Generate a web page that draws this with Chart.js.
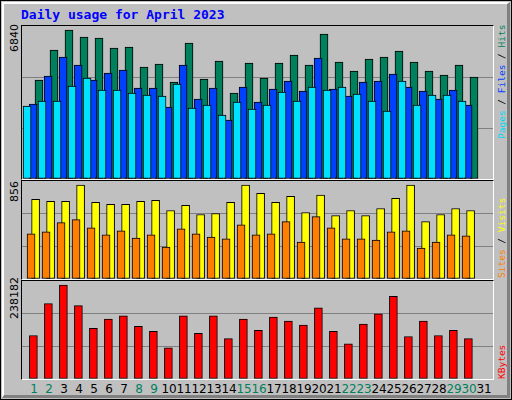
<!DOCTYPE html>
<html>
<head>
<meta charset="utf-8">
<script src="https://cdn.jsdelivr.net/npm/chart.js@4"></script>
<style>
  body { margin: 0; background: #fff; }
  #wrap { position: relative; width: 512px; height: 400px; background: #c0c0c0; box-sizing: border-box;
          border: 1px solid #000; }
  #bevel { position: absolute; left: 1px; top: 1px; right: 1px; bottom: 1px;
           border-top: 2px solid #fff; border-left: 2px solid #fff; border-right: 3px solid #808080; border-bottom: 3px solid #808080; }
  .title { position: absolute; left: 20px; top: 6px; font: bold 13px "DejaVu Sans Mono", monospace; color: #0000ff; }
  .panel { position: absolute; left: 20px; width: 471px; border-top: 1px solid #000; border-left: 1px solid #000;
           border-right: 1px solid #fff; border-bottom: 1px solid #fff; box-sizing: content-box; }
  .panel canvas { position: absolute; left: 0; top: 0; }
  .vl { position: absolute; font: 9.5px "DejaVu Sans Mono", monospace; line-height: 12px; transform: rotate(-90deg); transform-origin: left top; white-space: nowrap; }
  .num { font: 11px "DejaVu Sans", sans-serif; line-height: 12px; }
  .day { position: absolute; top: 381px; font: 12px "DejaVu Sans", sans-serif; width: 20px; text-align: center; }
</style>
</head>
<body>
<div id="wrap">
  <div id="bevel"></div>
  <div class="title">Daily usage for April 2023</div>
  <div class="panel" style="top:24px;height:153px"><canvas id="c1" width="471" height="153"></canvas></div>
  <div class="panel" style="top:179px;height:98px"><canvas id="c2" width="471" height="98"></canvas></div>
  <div class="panel" style="top:279px;height:98px"><canvas id="c3" width="471" height="98"></canvas></div>
  <div class="vl num" style="left:8px;top:51px">6840</div>
  <div class="vl num" style="left:8px;top:201px">856</div>
  <div class="vl num" style="left:8px;top:318px">238182</div>
  <div class="vl" style="left:495px;top:138px"><span style="color:#00d8f0">Pages</span> / <span style="color:#0040ff">Files</span> / <span style="color:#00805c">Hits</span></div>
  <div class="vl" style="left:495px;top:277px"><span style="color:#ff8000">Sites</span> / <span style="color:#ffff00">Visits</span></div>
  <div class="vl" style="left:495px;top:378px;color:#ff0000">KBytes</div>
  <div id="days"></div>
</div>
<script>
const days = Array.from({ length: 31 }, (_, i) => i + 1)
const weekend = [1, 2, 8, 9, 15, 16, 22, 23, 29, 30]

const hits = [4425, 5766, 6660, 6347, 6303, 5856, 5900, 5006, 5140, 4336, 6079, 4470, 5275, 3844, 5185,
  4515, 5185, 5543, 5096, 6482, 5230, 4828, 5364, 5453, 5722, 5230, 4828, 4649, 5096, 4559]
const files = [3353, 4604, 5453, 5096, 4425, 4738, 4872, 4068, 4068, 3218, 5096, 3576, 4068, 2637, 4112,
  3442, 4023, 4381, 3934, 5409, 4023, 3710, 4336, 4381, 4694, 4112, 3934, 3576, 3978, 3308]
const pages = [3263, 3487, 3487, 4157, 4515, 3978, 3978, 3844, 3755, 3710, 4247, 3174, 3308, 2861, 3442,
  3129, 3308, 3889, 3487, 4112, 3978, 4112, 3800, 3487, 3040, 4381, 3308, 3755, 3755, 3487]
const visits = [696, 678, 678, 820, 669, 652, 652, 678, 687, 598, 643, 563, 572, 669, 820,
  749, 669, 723, 581, 732, 554, 598, 554, 616, 705, 820, 501, 563, 616, 598]
const sites = [394, 412, 492, 518, 447, 385, 421, 358, 385, 278, 438, 394, 367, 350, 474,
  385, 394, 501, 323, 545, 447, 350, 350, 341, 412, 421, 270, 323, 385, 376]
const kbytes = [105766, 183216, 228187, 178219, 123254, 145740, 153235, 128251, 115759, 75785, 153235, 110762, 153235, 98270, 145740,
  118258, 150737, 140743, 130750, 173222, 115759, 85778, 133248, 158232, 200705, 103267, 140743, 105766, 118258, 98270]
const maxHits = 6840
const maxVisits = 856
const maxKbytes = 238182

const pts = (vals, off) => vals.map((v, i) => ({ x: days[i] + off, y: v }))

const ds = (label, vals, off, color) => ({
  label, data: pts(vals, off), backgroundColor: color, borderColor: '#000', borderWidth: 1,
  borderSkipped: false, barThickness: 8
})

const makeChart = (id, datasets, max) => new Chart(document.getElementById(id), {
  type: 'bar',
  data: { datasets },
  options: {
    responsive: false, animation: false,
    layout: { padding: 0 },
    plugins: { legend: { display: false }, tooltip: { enabled: false } },
    scales: {
      x: { type: 'linear', offset: false, min: 0.13, max: 31.53, display: false },
      y: {
        min: 0, max, ticks: { display: false, stepSize: max / 3 }, border: { display: false },
        grid: { drawTicks: false, color: c => (c.index === 1 || c.index === 2) ? '#808080' : 'rgba(0,0,0,0)' }
      }
    }
  }
})

// first dataset is drawn on top
makeChart('c1', [
  ds('Pages', pages, 0, '#00e0ff'),
  ds('Files', files, -0.13, '#0040ff'),
  ds('Hits', hits, -0.27, '#00805c')
], maxHits)
makeChart('c2', [
  ds('Sites', sites, 0, '#ff8000'),
  ds('Visits', visits, -0.23, '#ffff00')
], maxVisits)
makeChart('c3', [ds('KBytes', kbytes, -0.11, '#ff0000')], maxKbytes)

const dayBox = document.getElementById('days')
days.forEach(d => {
  const s = document.createElement('div')
  s.className = 'day'
  s.textContent = d
  s.style.left = (20 + (d - 0.13) * 471 / 31.4 - 10) + 'px'
  s.style.color = weekend.includes(d) ? '#00805c' : '#000'
  dayBox.appendChild(s)
})
</script>
</body>
</html>
